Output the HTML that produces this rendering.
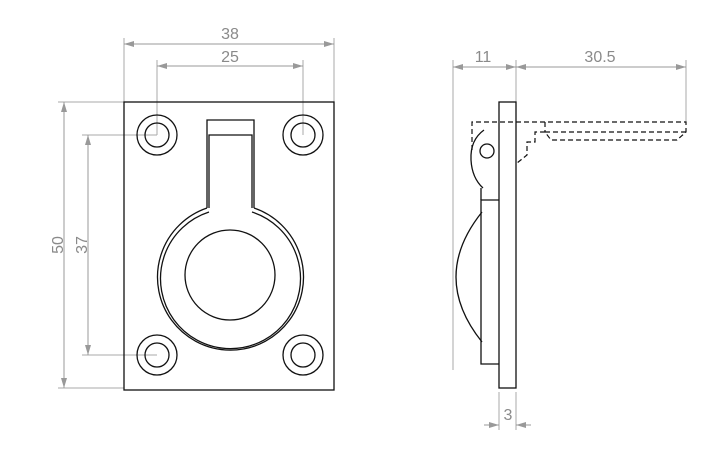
<!DOCTYPE html><html><head><style>body{margin:0;background:#fff}svg{display:block}text{font-family:"Liberation Sans",sans-serif;fill:#8a8a8a;font-size:16px}</style></head><body>
<svg width="715" height="460" viewBox="0 0 715 460">
<defs><marker id="a" viewBox="0 0 10 6" refX="10" refY="3" markerWidth="10" markerHeight="6" orient="auto-start-reverse"><path d="M0,0L10,3L0,6z" fill="#999"/></marker></defs>
<g stroke="#aaa" stroke-width="1" fill="none">
<line x1="124" y1="38" x2="124" y2="102"/><line x1="334" y1="38" x2="334" y2="102"/>
<line x1="157" y1="60" x2="157" y2="135"/><line x1="303" y1="60" x2="303" y2="135"/>
<line x1="58" y1="102" x2="124" y2="102"/><line x1="58" y1="388" x2="124" y2="388"/>
<line x1="82" y1="135" x2="157" y2="135"/><line x1="82" y1="355" x2="157" y2="355"/>
<line x1="453" y1="60" x2="453" y2="370"/><line x1="516" y1="60" x2="516" y2="102"/><line x1="686" y1="60" x2="686" y2="122"/>
<line x1="499" y1="392" x2="499" y2="430"/><line x1="516" y1="392" x2="516" y2="430"/>
</g>
<g stroke="#999" stroke-width="1" fill="none">
<line x1="124" y1="44" x2="334" y2="44" marker-start="url(#a)" marker-end="url(#a)"/>
<line x1="157" y1="66" x2="303" y2="66" marker-start="url(#a)" marker-end="url(#a)"/>
<line x1="64" y1="102" x2="64" y2="388" marker-start="url(#a)" marker-end="url(#a)"/>
<line x1="88" y1="135" x2="88" y2="355" marker-start="url(#a)" marker-end="url(#a)"/>
<line x1="453" y1="67" x2="516" y2="67" marker-start="url(#a)" marker-end="url(#a)"/>
<line x1="516" y1="67" x2="686" y2="67" marker-start="url(#a)" marker-end="url(#a)"/>
<line x1="484" y1="425" x2="499" y2="425" marker-end="url(#a)"/>
<line x1="531" y1="425" x2="516" y2="425" marker-end="url(#a)"/>
</g>
<text x="230" y="39" text-anchor="middle">38</text>
<text x="230" y="62" text-anchor="middle">25</text>
<text transform="translate(63,245) rotate(-90)" text-anchor="middle">50</text>
<text transform="translate(87,245) rotate(-90)" text-anchor="middle">37</text>
<text x="483" y="62" text-anchor="middle">11</text>
<text x="600" y="62" text-anchor="middle">30.5</text>
<text x="508" y="420" text-anchor="middle">3</text>
<g stroke="#111" stroke-width="1.3" fill="none">
<rect x="124" y="102" width="210" height="288"/>
<circle cx="157" cy="135" r="20"/><circle cx="157" cy="135" r="12"/>
<circle cx="303" cy="135" r="20"/><circle cx="303" cy="135" r="12"/>
<circle cx="157" cy="355" r="20"/><circle cx="157" cy="355" r="12"/>
<circle cx="303" cy="355" r="20"/><circle cx="303" cy="355" r="12"/>
<path d="M207,208L207,120L254,120L254,208"/>
<path d="M209,208L209,135L252,135L252,208"/>
<path d="M207,208A73,73 0 1 0 254,208"/>
<path d="M209,212A70,70 0 1 0 252,212"/>
<circle cx="230" cy="275" r="45"/>
<rect x="499" y="102" width="17" height="286"/>
<path d="M499,200L481,200L481,364L499,364"/>
<path d="M482,212Q430,277 482,342"/>
<circle cx="487" cy="151" r="7"/>
<path d="M484,130Q470,140 471,160Q472,178 483,188"/>
<path d="M481,200L481,188"/>
</g>
<g stroke="#111" stroke-width="1.2" fill="none" stroke-dasharray="5,3">
<path d="M472,150L472,122L686,122L686,132L677,140L551,140L545,132L535,132L535,142L527,142L527,155L517,163"/>
<line x1="545" y1="122" x2="545" y2="132"/>
<line x1="545" y1="132" x2="686" y2="132"/>
</g>
</svg></body></html>
